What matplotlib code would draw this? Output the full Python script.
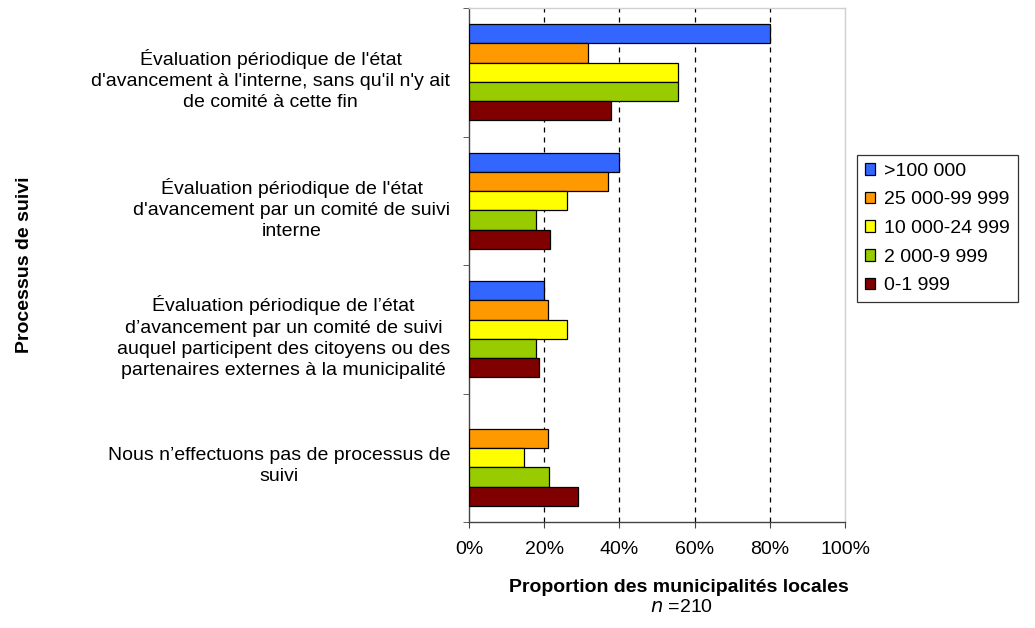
import matplotlib
matplotlib.use("Agg")
import matplotlib.pyplot as plt
import numpy as np

plt.rcParams['font.family'] = ['Liberation Sans', 'DejaVu Sans']

categories = [
    "Évaluation périodique de l'état\nd'avancement à l'interne, sans qu'il n'y ait\nde comité à cette fin",
    "Évaluation périodique de l'état\nd'avancement par un comité de suivi\ninterne",
    "Évaluation périodique de l’état\nd’avancement par un comité de suivi\nauquel participent des citoyens ou des\npartenaires externes à la municipalité",
    "Nous n’effectuons pas de processus de\nsuivi",
]
series_names = [">100 000", "25 000-99 999", "10 000-24 999", "2 000-9 999", "0-1 999"]
v_100k = [80.0, 40.0, 20.0, 0.0]
v_25k = [31.7, 37.0, 21.1, 21.1]
v_10k = [55.5, 26.0, 26.0, 14.7]
v_2k = [55.5, 17.7, 17.7, 21.4]
v_0 = [37.7, 21.5, 18.5, 29.1]
series_values = [v_100k, v_25k, v_10k, v_2k, v_0]
colors = ["#3366FF", "#FF9900", "#FFFF00", "#99CC00", "#800000"]
xticks = [0, 20, 40, 60, 80, 100]
xticklabels = ["0%", "20%", "40%", "60%", "80%", "100%"]

FS = 14

fig = plt.figure(figsize=(10.35, 6.28), dpi=100)
ax = fig.add_axes([469/1035, 1-522/628, (845-469)/1035, (522-8)/628])

n_cat = len(categories)
bh = 0.15
ypos = np.arange(n_cat)
for j, (name, vals, c) in enumerate(zip(series_names, series_values, colors)):
    y = ypos - 0.3 + bh*j
    w = np.array(vals, dtype=float)
    w = np.where(w > 0, w, np.nan)
    ax.barh(y, w, height=bh, color=c, edgecolor='black', linewidth=0.9,
            label=name, zorder=3)

ax.set_xlim(0, 100)
ax.set_ylim(n_cat-0.5, -0.5)
ax.set_xticks(xticks)
ax.set_xticklabels(xticklabels, fontsize=FS)
ax.tick_params(axis='x', length=4, pad=10, color='#444444')
ax.set_yticks(ypos + 0.03)
ax.set_yticklabels(categories, fontsize=FS, multialignment='center', linespacing=1.32)
ax.tick_params(axis='y', which='major', length=0, pad=13.5)
ax.set_yticks(np.arange(n_cat+1)-0.5, minor=True)
ax.tick_params(axis='y', which='minor', length=4, color='#444444')

for x in [20, 40, 60, 80]:
    ax.axvline(x, color='black', linestyle=(0, (4, 4)), linewidth=0.9, zorder=1)

for s in ['top', 'right']:
    ax.spines[s].set_color('#d0d0d0')
    ax.spines[s].set_linewidth(1)
for s in ['left', 'bottom']:
    ax.spines[s].set_color('#444444')
    ax.spines[s].set_linewidth(1)

fig.text(679/1035, 1-587/628, "Proportion des municipalités locales", ha='center', va='center',
         fontsize=FS, fontweight='bold')
fig.text(681/1035, 1-608/628, r"$\it{n}$ =210", ha='center', va='center', fontsize=FS)
fig.text(25/1035, 1-265/628, "Processus de suivi", ha='center', va='center', rotation=90,
         fontsize=FS, fontweight='bold')

leg = ax.legend(loc='upper left', bbox_to_anchor=(857/1035, 1-155/628), bbox_transform=fig.transFigure,
                fontsize=FS, frameon=True, fancybox=False, edgecolor='black',
                handlelength=0.55, handleheight=0.55, handletextpad=0.45, borderpad=0.4,
                labelspacing=0.6, borderaxespad=0)
leg.get_frame().set_linewidth(0.9)

fig.savefig("out.png", dpi=100)
